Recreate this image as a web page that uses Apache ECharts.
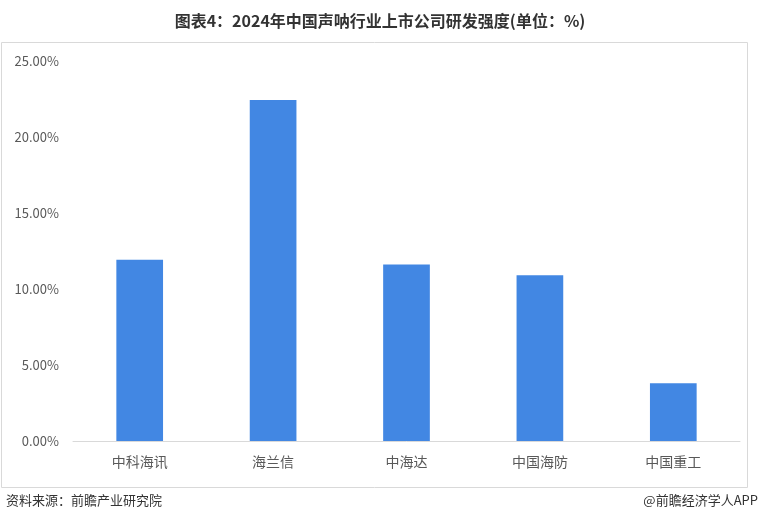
<!DOCTYPE html>
<html><head><meta charset="utf-8">
<script src="https://cdn.jsdelivr.net/npm/echarts@6/dist/echarts.min.js"></script>
<style>html,body{margin:0;padding:0;background:#fff}#c{width:760px;height:524px}</style>
</head><body><div id="c"></div>
<script>
const categories = ['中科海讯','海兰信','中海达','中国海防','中国重工'];
const values = [11.92, 22.43, 11.62, 10.90, 3.80];
const yTicks = [0, 5, 25];
const titleText = '图表4：2024年中国声呐行业上市公司研发强度(单位：%)';
const sourceText = '资料来源：前瞻产业研究院';
const brandText = '@前瞻经济学人APP';

const chart = echarts.init(document.getElementById('c'));
const font = '"Noto Sans CJK SC","Microsoft YaHei",sans-serif';
chart.setOption({
  animation: false,
  title: {text: titleText, left: 'center', top: 8, textStyle: {fontFamily: font, fontSize: 16, fontWeight: 'bold', color: '#333'}},
  graphic: [
    {type: 'rect', shape: {x: 1.5, y: 42.5, width: 746, height: 445}, style: {fill: 'none', stroke: '#d9d9d9', lineWidth: 1}},
    {type: 'text', left: 6, top: 494, style: {text: sourceText, font: '13px ' + font, fill: '#333'}},
    {type: 'text', right: 2, top: 494, style: {text: brandText, font: '13px ' + font, fill: '#333'}}
  ],
  grid: {left: 73, right: 20, top: 61, bottom: 83},
  xAxis: {type: 'category', data: categories,
    axisLine: {lineStyle: {color: '#d9d9d9'}}, axisTick: {show: false},
    axisLabel: {color: '#595959', fontSize: 14, fontFamily: font, margin: 14}},
  yAxis: {type: 'value', min: yTicks[0], max: yTicks[2], interval: yTicks[1],
    splitLine: {show: false}, axisLine: {show: false}, axisTick: {show: false},
    axisLabel: {color: '#595959', fontSize: 13, fontFamily: font, margin: 14, formatter: v => v.toFixed(2) + '%'}},
  series: [{type: 'bar', data: values, barWidth: '35%', itemStyle: {color: '#4287e3'}}]
});
</script></body></html>
